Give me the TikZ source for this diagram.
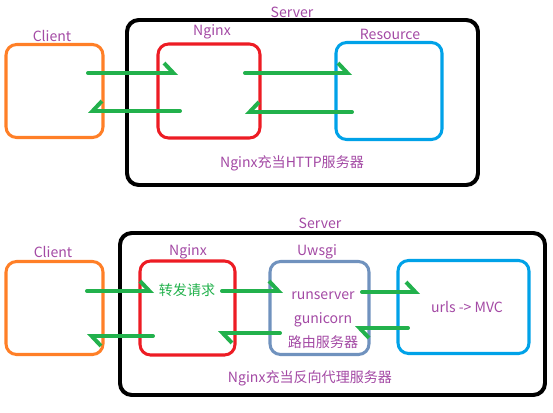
\documentclass[tikz,border=0pt]{standalone}
\usepackage{fontspec}
\setmainfont{Noto Sans CJK SC}
\usetikzlibrary{arrows.meta,calc}

\definecolor{paintgreen}{HTML}{22B14C}
\definecolor{paintred}{HTML}{ED1C24}
\definecolor{paintorange}{HTML}{FF7F27}
\definecolor{paintblue}{HTML}{00A2E8}
\definecolor{paintsteel}{HTML}{7092BE}
\definecolor{paintpurple}{HTML}{A349A4}

\newdimen\pxu
\pxu=0.03cm

\begin{document}
\begin{tikzpicture}[x=0.03cm, y=-0.03cm,
    every node/.style={font=\fontsize{12}{14}\selectfont},
    box/.style={draw=#1, line width=2.6pt, rounded corners=9pt, inner sep=0pt, outer sep=0pt},
    serverbox/.style={draw=black, line width=3.4pt, rounded corners=10pt, inner sep=0pt, outer sep=0pt},
    lbl/.style={text=paintpurple, inner sep=1pt},
    flow/.style={draw=paintgreen, line width=3.4pt, line cap=round},
    barbup/.style={-{Straight Barb[left, length=8pt, width=17pt]}},
    barbdown/.style={-{Straight Barb[right, length=8pt, width=17pt]}}]
    \useasboundingbox (0,0) rectangle (553,412);

    % Nginx as HTTP server
    \node[serverbox, minimum width=351\pxu, minimum height=165\pxu] (server) at (302.5,102.5) {};
    \node[box=paintorange, minimum width=97\pxu, minimum height=93\pxu] (client) at (54.5,91) {};
    \node[box=paintred, minimum width=102\pxu, minimum height=94\pxu] (nginx) at (209,91) {};
    \node[box=paintblue, minimum width=106\pxu, minimum height=97\pxu] (resource) at (389,91) {};

    \node[lbl] (serverlbl) at (292,12) {Server};
    \node[lbl] (clientlbl) at (52,36) {Client};
    \node[lbl] (nginxlbl) at (212,32) {Nginx};
    \node[lbl] (resourcelbl) at (390,34) {Resource};
    \node[lbl] (httpcap) at (292,163) {Nginx充当HTTP服务器};

    \draw[flow, barbup] ($(client.east)+(-15,-18)$) -- ($(nginx.west)+(20,-18)$);
    \draw[flow, barbdown] ($(nginx.west)+(22,20)$) -- ($(client.east)+(-15,20)$);
    \draw[flow, barbup] ($(nginx.east)+(-15,-18)$) -- ($(resource.west)+(16,-18)$);
    \draw[flow, barbdown] ($(resource.west)+(16,21)$) -- ($(nginx.east)+(-15,21)$);

    % Nginx as reverse proxy
    \node[serverbox, minimum width=425\pxu, minimum height=162\pxu] (server2) at (332.5,314) {};
    \node[box=paintorange, minimum width=97\pxu, minimum height=93\pxu] (client2) at (54.5,308) {};
    \node[box=paintred, minimum width=95\pxu, minimum height=94\pxu] (nginx2) at (187.5,308) {};
    \node[box=paintsteel, minimum width=99\pxu, minimum height=93\pxu] (uwsgi) at (319.5,308) {};
    \node[box=paintblue, minimum width=131\pxu, minimum height=93\pxu] (mvc) at (463.5,307) {};

    \node[lbl] (server2lbl) at (320,223) {Server};
    \node[lbl] (client2lbl) at (53,252) {Client};
    \node[lbl] (nginx2lbl) at (188,252) {Nginx};
    \node[lbl] (uwsgilbl) at (317,252) {Uwsgi};
    \node[text=paintgreen, inner sep=1pt] (fwdtxt) at (187,290) {转发请求};
    \node[lbl] (runsrv) at (323,296) {runserver};
    \node[lbl] (gunicorn) at (323,320) {gunicorn};
    \node[lbl] (router) at (323,342) {路由服务器};
    \node[lbl] (mvctxt) at (467,307) {urls -> MVC};
    \node[lbl] (proxycap) at (310,378) {Nginx充当反向代理服务器};

    \draw[flow, barbup] ($(client2.east)+(-16,-17)$) -- ($(nginx2.west)+(14,-17)$);
    \draw[flow, barbup] ($(nginx2.west)+(13,28)$) -- ($(client2.east)+(-16,28)$);
    \draw[flow, barbup] ($(nginx2.east)+(-13,-17)$) -- ($(uwsgi.west)+(13,-17)$);
    \draw[flow, barbup] ($(uwsgi.west)+(10,25)$) -- ($(nginx2.east)+(-17,25)$);
    \draw[flow, barbup] ($(uwsgi.east)+(-7,-16)$) -- ($(mvc.west)+(22,-15)$);
    \draw[flow, barbup] ($(mvc.west)+(10,21)$) -- ($(uwsgi.east)+(-14,20)$);
\end{tikzpicture}
\end{document}
